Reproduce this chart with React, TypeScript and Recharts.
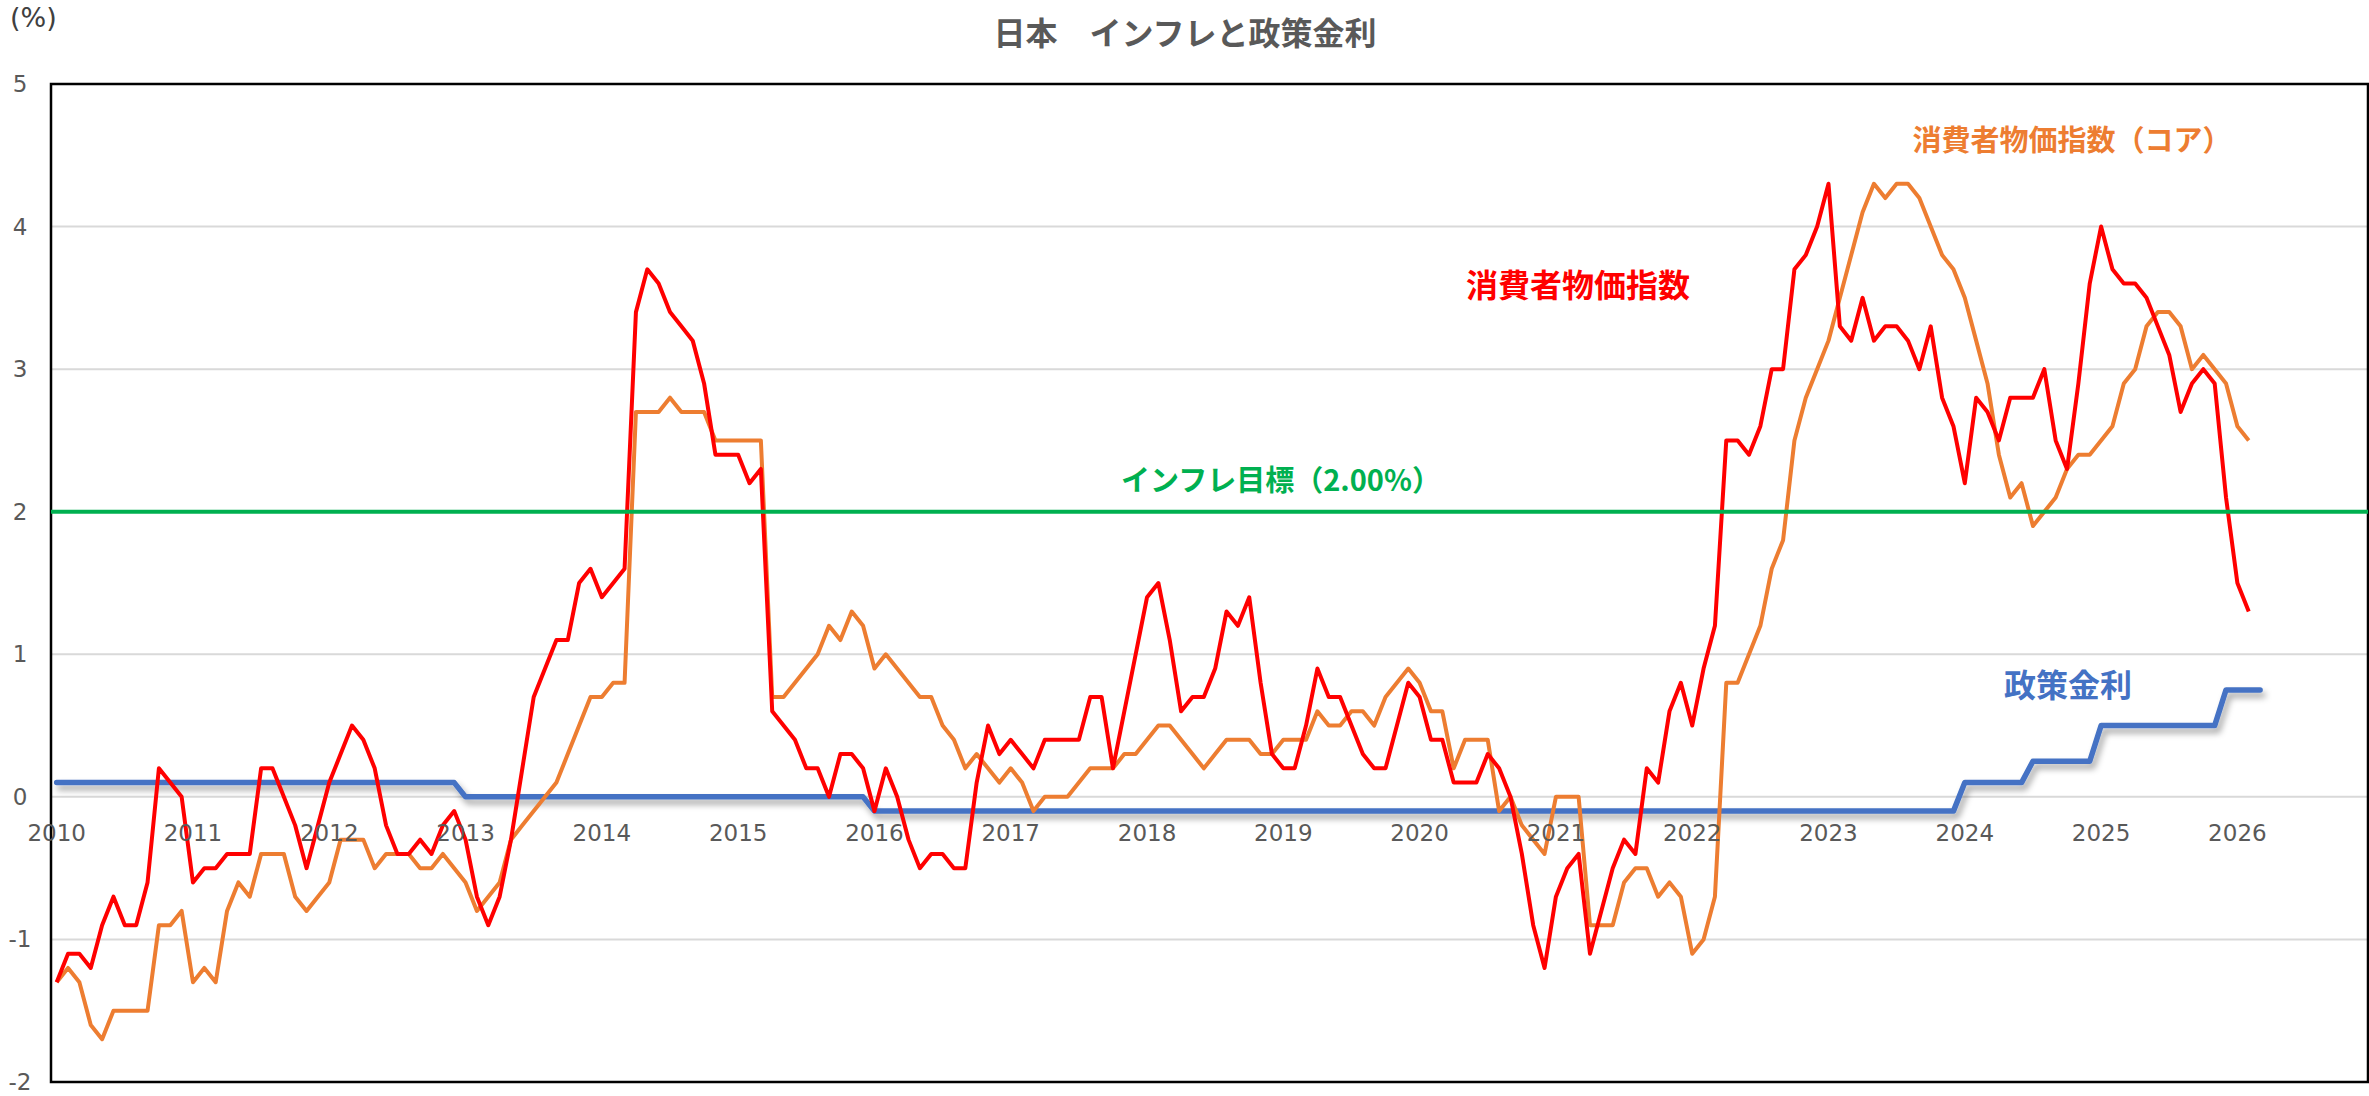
import React from 'react'
import { LineChart, Line, XAxis, YAxis, CartesianGrid, ReferenceLine, ReferenceArea, ReferenceDot } from 'recharts'

// 月次データ 2010年1月〜（前年同月比, %）
const YEARS = ['2010', '2011', '2012', '2013', '2014', '2015', '2016', '2017', '2018', '2019', '2020', '2021', '2022', '2023', '2024', '2025', '2026']
const X_TICKS = [0, 12, 24, 36, 48, 60, 72, 84, 96, 108, 120, 132, 144, 156, 168, 180, 192, 204]
const Y_TICKS = [-2, -1, 0, 1, 2, 3, 4, 5]
const INFLATION_TARGET = 2

// 消費者物価指数
const cpi = [
  -1.3, -1.1, -1.1, -1.2, -0.9, -0.7, -0.9, -0.9, -0.6, 0.2, 0.1, 0.0,
  -0.6, -0.5, -0.5, -0.4, -0.4, -0.4, 0.2, 0.2, 0.0, -0.2, -0.5, -0.2,
  0.1, 0.3, 0.5, 0.4, 0.2, -0.2, -0.4, -0.4, -0.3, -0.4, -0.2, -0.1,
  -0.3, -0.7, -0.9, -0.7, -0.3, 0.2, 0.7, 0.9, 1.1, 1.1, 1.5, 1.6,
  1.4, 1.5, 1.6, 3.4, 3.7, 3.6, 3.4, 3.3, 3.2, 2.9, 2.4, 2.4,
  2.4, 2.2, 2.3, 0.6, 0.5, 0.4, 0.2, 0.2, 0.0, 0.3, 0.3, 0.2,
  -0.1, 0.2, 0.0, -0.3, -0.5, -0.4, -0.4, -0.5, -0.5, 0.1, 0.5, 0.3,
  0.4, 0.3, 0.2, 0.4, 0.4, 0.4, 0.4, 0.7, 0.7, 0.2, 0.6, 1.0,
  1.4, 1.5, 1.1, 0.6, 0.7, 0.7, 0.9, 1.3, 1.2, 1.4, 0.8, 0.3,
  0.2, 0.2, 0.5, 0.9, 0.7, 0.7, 0.5, 0.3, 0.2, 0.2, 0.5, 0.8,
  0.7, 0.4, 0.4, 0.1, 0.1, 0.1, 0.3, 0.2, 0.0, -0.4, -0.9, -1.2,
  -0.7, -0.5, -0.4, -1.1, -0.8, -0.5, -0.3, -0.4, 0.2, 0.1, 0.6, 0.8,
  0.5, 0.9, 1.2, 2.5, 2.5, 2.4, 2.6, 3.0, 3.0, 3.7, 3.8, 4.0,
  4.3, 3.3, 3.2, 3.5, 3.2, 3.3, 3.3, 3.2, 3.0, 3.3, 2.8, 2.6,
  2.2, 2.8, 2.7, 2.5, 2.8, 2.8, 2.8, 3.0, 2.5, 2.3, 2.9, 3.6,
  4.0, 3.7, 3.6, 3.6, 3.5, 3.3, 3.1, 2.7, 2.9, 3.0, 2.9, 2.1,
  1.5, 1.3,
]

// 消費者物価指数（コア）
const coreCpi = [
  -1.3, -1.2, -1.3, -1.6, -1.7, -1.5, -1.5, -1.5, -1.5, -0.9, -0.9, -0.8,
  -1.3, -1.2, -1.3, -0.8, -0.6, -0.7, -0.4, -0.4, -0.4, -0.7, -0.8, -0.7,
  -0.6, -0.3, -0.3, -0.3, -0.5, -0.4, -0.4, -0.4, -0.5, -0.5, -0.4, -0.5,
  -0.6, -0.8, -0.7, -0.6, -0.3, -0.2, -0.1, 0.0, 0.1, 0.3, 0.5, 0.7,
  0.7, 0.8, 0.8, 2.7, 2.7, 2.7, 2.8, 2.7, 2.7, 2.7, 2.5, 2.5,
  2.5, 2.5, 2.5, 0.7, 0.7, 0.8, 0.9, 1.0, 1.2, 1.1, 1.3, 1.2,
  0.9, 1.0, 0.9, 0.8, 0.7, 0.7, 0.5, 0.4, 0.2, 0.3, 0.2, 0.1,
  0.2, 0.1, -0.1, 0.0, 0.0, 0.0, 0.1, 0.2, 0.2, 0.2, 0.3, 0.3,
  0.4, 0.5, 0.5, 0.4, 0.3, 0.2, 0.3, 0.4, 0.4, 0.4, 0.3, 0.3,
  0.4, 0.4, 0.4, 0.6, 0.5, 0.5, 0.6, 0.6, 0.5, 0.7, 0.8, 0.9,
  0.8, 0.6, 0.6, 0.2, 0.4, 0.4, 0.4, -0.1, 0.0, -0.2, -0.3, -0.4,
  0.0, 0.0, 0.0, -0.9, -0.9, -0.9, -0.6, -0.5, -0.5, -0.7, -0.6, -0.7,
  -1.1, -1.0, -0.7, 0.8, 0.8, 1.0, 1.2, 1.6, 1.8, 2.5, 2.8, 3.0,
  3.2, 3.5, 3.8, 4.1, 4.3, 4.2, 4.3, 4.3, 4.2, 4.0, 3.8, 3.7,
  3.5, 3.2, 2.9, 2.4, 2.1, 2.2, 1.9, 2.0, 2.1, 2.3, 2.4, 2.4,
  2.5, 2.6, 2.9, 3.0, 3.3, 3.4, 3.4, 3.3, 3.0, 3.1, 3.0, 2.9,
  2.6, 2.5,
]

// 政策金利
const policyRate = [
  0.1, 0.1, 0.1, 0.1, 0.1, 0.1, 0.1, 0.1, 0.1, 0.1, 0.1, 0.1,
  0.1, 0.1, 0.1, 0.1, 0.1, 0.1, 0.1, 0.1, 0.1, 0.1, 0.1, 0.1,
  0.1, 0.1, 0.1, 0.1, 0.1, 0.1, 0.1, 0.1, 0.1, 0.1, 0.1, 0.1,
  0, 0, 0, 0, 0, 0, 0, 0, 0, 0, 0, 0,
  0, 0, 0, 0, 0, 0, 0, 0, 0, 0, 0, 0,
  0, 0, 0, 0, 0, 0, 0, 0, 0, 0, 0, 0,
  -0.1, -0.1, -0.1, -0.1, -0.1, -0.1, -0.1, -0.1, -0.1, -0.1, -0.1, -0.1,
  -0.1, -0.1, -0.1, -0.1, -0.1, -0.1, -0.1, -0.1, -0.1, -0.1, -0.1, -0.1,
  -0.1, -0.1, -0.1, -0.1, -0.1, -0.1, -0.1, -0.1, -0.1, -0.1, -0.1, -0.1,
  -0.1, -0.1, -0.1, -0.1, -0.1, -0.1, -0.1, -0.1, -0.1, -0.1, -0.1, -0.1,
  -0.1, -0.1, -0.1, -0.1, -0.1, -0.1, -0.1, -0.1, -0.1, -0.1, -0.1, -0.1,
  -0.1, -0.1, -0.1, -0.1, -0.1, -0.1, -0.1, -0.1, -0.1, -0.1, -0.1, -0.1,
  -0.1, -0.1, -0.1, -0.1, -0.1, -0.1, -0.1, -0.1, -0.1, -0.1, -0.1, -0.1,
  -0.1, -0.1, -0.1, -0.1, -0.1, -0.1, -0.1, -0.1, -0.1, -0.1, -0.1, -0.1,
  0.1, 0.1, 0.1, 0.1, 0.1, 0.1, 0.25, 0.25, 0.25, 0.25, 0.25, 0.25,
  0.5, 0.5, 0.5, 0.5, 0.5, 0.5, 0.5, 0.5, 0.5, 0.5, 0.5, 0.75,
  0.75, 0.75, 0.75,
]

// 各月の点は月の中ほどに置く
const rows = policyRate.map((rate, i) => ({
  t: i + 0.5,
  rate,
  cpi: i < cpi.length ? cpi[i] : null,
  core: i < coreCpi.length ? coreCpi[i] : null,
}))

const AXIS_GREY = '#595959'
const NUM_FONT = '"DejaVu Sans", sans-serif'
const JP_FONT = '"Noto Sans CJK JP", sans-serif'

function YTick({ y, payload }: any) {
  return (
    <text x={20} y={y} textAnchor="middle" dominantBaseline="central" fill={AXIS_GREY} fontSize={23} fontFamily={NUM_FONT}>
      {payload.value}
    </text>
  )
}

function Note({ x, y, color, size, bold = true, children }: any) {
  return (
    <div style={{
      position: 'absolute', left: x, top: y, transform: 'translate(-50%, -50%)',
      color, fontSize: size, fontWeight: bold ? 700 : 400, fontFamily: JP_FONT,
      lineHeight: 1, whiteSpace: 'nowrap',
    }}>
      {children}
    </div>
  )
}

export default function App() {
  return (
    <div style={{ position: 'absolute', left: 0, top: 0, width: 2369, height: 1096, background: '#fff' }}>
      <LineChart width={2369} height={1096} data={rows} margin={{ top: 84, right: 1, bottom: 13, left: 0 }}>
        <defs>
          <filter id="rateShadow" filterUnits="userSpaceOnUse" x="0" y="0" width="2369" height="1096">
            <feDropShadow dx="3" dy="5" stdDeviation="3" floodColor="#000" floodOpacity="0.35" />
          </filter>
        </defs>
        <CartesianGrid stroke="#D9D9D9" strokeWidth={2} />
        <XAxis type="number" dataKey="t" domain={[0, 204]} ticks={X_TICKS} tick={false} tickLine={false} axisLine={false} height={1} />
        <YAxis domain={[-2, 5]} ticks={Y_TICKS} tick={<YTick />} tickLine={false} axisLine={false} width={51} />
        <ReferenceArea x1={0} x2={204} y1={-2} y2={5} fill="none" fillOpacity={0} stroke="#000" strokeWidth={2.5} />
        <Line dataKey="rate" type="linear" stroke="#4472C4" strokeWidth={5.5} dot={false} activeDot={false}
          strokeLinejoin="round" strokeLinecap="round" filter="url(#rateShadow)" isAnimationActive={false} />
        <Line dataKey="core" type="linear" stroke="#ED7D31" strokeWidth={4} dot={false} activeDot={false}
          strokeLinejoin="round" isAnimationActive={false} />
        <Line dataKey="cpi" type="linear" stroke="#FF0000" strokeWidth={4} dot={false} activeDot={false}
          strokeLinejoin="round" isAnimationActive={false} />
        <ReferenceLine y={INFLATION_TARGET} stroke="#00B050" strokeWidth={4} />
        {YEARS.map((yr, k) => (
          <ReferenceDot key={yr} x={X_TICKS[k] + 0.5} y={0} r={0} fill="none" stroke="none"
            label={{ value: yr, position: 'bottom', offset: 28, fill: AXIS_GREY, fontSize: 23, fontFamily: NUM_FONT }} />
        ))}
      </LineChart>

      <div style={{ position: 'absolute', left: 10, top: 4, color: '#404040', fontSize: 27, fontFamily: NUM_FONT, lineHeight: 1 }}>(%)</div>
      <Note x={1185} y={31} color={AXIS_GREY} size={32}>日本　インフレと政策金利</Note>
      <Note x={1281} y={478} color="#00B050" size={29}>インフレ目標（2.00%）</Note>
      <Note x={1578} y={283} color="#FF0000" size={32}>消費者物価指数</Note>
      <Note x={2072} y={138} color="#ED7D31" size={29}>消費者物価指数（コア）</Note>
      <Note x={2068} y={683} color="#4472C4" size={32}>政策金利</Note>
    </div>
  )
}
